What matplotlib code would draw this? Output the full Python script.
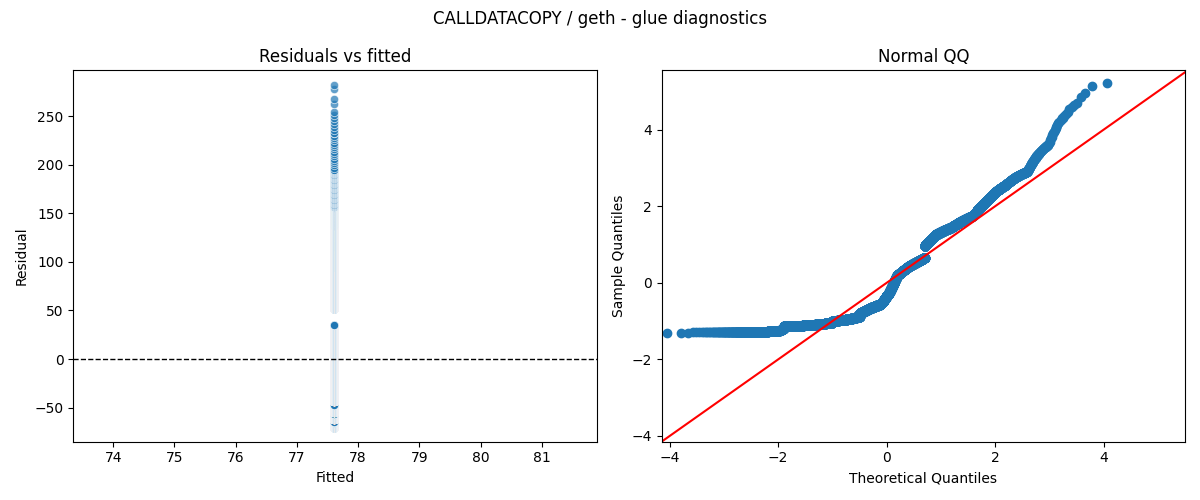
from statistics import NormalDist

import matplotlib

matplotlib.use("Agg")

import matplotlib.pyplot as plt
import numpy as np

# standardized residual bands: (low, high, count)
band_low = [-1.31, -1.29, -1.26, -1.14, -1.10, -1.00, -0.95, -0.80, -0.66, -0.55, -0.25, 0.20, 0.42, 0.95, 1.25, 1.45, 1.75, 2.15, 2.55, 2.90, 3.60, 4.30, 4.85, 5.15, 5.22]
band_high = [-1.29, -1.26, -1.20, -1.10, -1.04, -0.95, -0.88, -0.66, -0.55, -0.25, 0.20, 0.42, 0.65, 1.25, 1.45, 1.75, 2.15, 2.55, 2.90, 3.60, 4.30, 4.70, 4.95, 5.15, 5.22]
band_count = [5, 450, 120, 1040, 1560, 1670, 1330, 1470, 1560, 1200, 1180, 1520, 2060, 1160, 1380, 1200, 460, 360, 190, 67, 17, 8, 2, 1, 1]
fitted_value = 77.6
resid_scale = 54.0

z = np.sort(np.concatenate([np.linspace(lo, hi, c) for lo, hi, c in zip(band_low, band_high, band_count)]))
n = len(z)
nd = NormalDist()
theo = np.array([nd.inv_cdf((i + 1 - 0.5) / n) for i in range(n)])
resid = z * resid_scale

fig, (ax1, ax2) = plt.subplots(1, 2, figsize=(12, 5))
fig.suptitle("CALLDATACOPY / geth - glue diagnostics")

ax1.scatter(np.full(n, fitted_value), resid, color="#1f77b4", alpha=0.7, edgecolor="white", linewidth=0.6, s=36)
ax1.axhline(0, color="black", linestyle="--", linewidth=1)
ax1.set_xlim(73.35, 81.9)
ax1.set_ylim(-85, 297)
ax1.set_title("Residuals vs fitted")
ax1.set_xlabel("Fitted")
ax1.set_ylabel("Residual")

ax2.plot(theo, z, "o", color="#1f77b4", markersize=6)
ax2.set_xlim(-4.15, 5.5)
ax2.set_ylim(-4.15, 5.55)
ax2.plot([-4.15, 5.55], [-4.15, 5.55], color="red")
ax2.set_title("Normal QQ")
ax2.set_xlabel("Theoretical Quantiles")
ax2.set_ylabel("Sample Quantiles")

fig.tight_layout()
plt.savefig("out.png", dpi=100)
plt.close(fig)
